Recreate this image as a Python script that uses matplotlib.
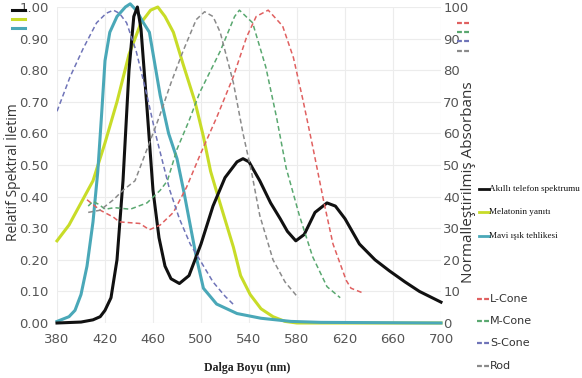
import matplotlib
matplotlib.use('Agg')
import matplotlib.pyplot as plt
from matplotlib.lines import Line2D

# ---- data ----
phone_wl = [380, 400, 410, 416, 420, 425, 430, 435, 440, 444, 447, 450, 455, 460, 465, 470, 475, 482,
            490, 500, 510, 520, 530, 535, 540, 549, 558, 566, 572, 579, 586, 595, 605, 612, 620, 632,
            645, 657, 670, 682, 700]
phone_val = [0.0, 0.003, 0.01, 0.02, 0.04, 0.08, 0.2, 0.45, 0.8, 0.97, 1.0, 0.93, 0.68, 0.42, 0.27,
             0.18, 0.14, 0.125, 0.15, 0.25, 0.37, 0.46, 0.51, 0.52, 0.51, 0.45, 0.38, 0.33, 0.29,
             0.26, 0.28, 0.35, 0.38, 0.37, 0.33, 0.25, 0.2, 0.165, 0.13, 0.10, 0.066]

melatonin_wl = [380, 390, 400, 410, 420, 430, 440, 450, 458, 464, 470, 477, 485, 495, 502, 508, 515,
                527, 533, 541, 550, 560, 570, 580, 700]
melatonin_val = [0.26, 0.31, 0.38, 0.45, 0.57, 0.70, 0.85, 0.95, 0.99, 1.0, 0.97, 0.92, 0.82, 0.70,
                 0.59, 0.48, 0.39, 0.24, 0.15, 0.09, 0.045, 0.02, 0.005, 0.0, 0.0]

bluehaz_wl = [380, 390, 395, 400, 405, 410, 414, 417, 420, 424, 430, 437, 441, 446, 452, 457, 466,
              473, 480, 486, 490, 496, 502, 513, 530, 550, 575, 600, 700]
bluehaz_val = [0.005, 0.02, 0.04, 0.09, 0.18, 0.32, 0.48, 0.65, 0.83, 0.92, 0.97, 1.0, 1.01, 0.99,
               0.95, 0.92, 0.72, 0.60, 0.52, 0.41, 0.33, 0.21, 0.11, 0.06, 0.03, 0.015, 0.005, 0.002, 0.0]

lcone_wl = [405, 416, 427, 432, 449, 457, 466, 477, 488, 499, 513, 527, 538, 546, 556, 568, 577, 585,
            593, 602, 610, 621, 625, 635]
lcone_val = [39, 35.7, 33.5, 32, 31.5, 29.5, 31, 35, 43, 53, 65, 78, 90.5, 97, 99, 94, 84, 70.5,
             56, 39, 25, 13.5, 11, 9.5]

mcone_wl = [406, 410, 415, 420, 428, 441, 455, 466, 472, 480, 490, 499, 516, 528, 532, 543, 554,
            563, 571, 582, 593, 605, 616]
mcone_val = [37, 38.5, 37.5, 36, 36.5, 36, 38, 42, 45, 55, 64, 73, 86, 97, 99, 95, 81, 65, 49, 34,
             21, 11.5, 8]

scone_wl = [380, 391, 402, 413, 421, 427, 432, 438, 446, 455, 462, 470, 474, 482, 491, 499, 510,
            520, 528]
scone_val = [67, 78, 87, 95, 98, 99, 98, 95, 86, 72, 60, 48, 42, 33, 25, 20, 13, 8.5, 5.5]

rod_wl = [406, 416, 427, 435, 445, 455, 465, 475, 485, 496, 503, 510, 516, 527, 535, 542, 549, 560,
          570, 581]
rod_val = [35, 35.7, 39, 42, 45, 55, 65, 76, 86, 96, 98.5, 97, 92, 76, 60, 48, 34, 20, 13, 8]

x_ticks = [380, 420, 460, 500, 540, 580, 620, 660, 700]
left_ticks = [0.0, 0.1, 0.2, 0.3, 0.4, 0.5, 0.6, 0.7, 0.8, 0.9, 1.0]
right_ticks = [0, 10, 20, 30, 40, 50, 60, 70, 80, 90, 100]

solid_labels = ['Akıllı telefon spektrumu', 'Melatonin yanıtı', 'Mavi ışık tehlikesi']
cone_labels = ['L-Cone', 'M-Cone', 'S-Cone', 'Rod']

# ---- styles ----
C_BLACK = '#111111'
C_YELLOW = '#c8dc28'
C_CYAN = '#4aa8b8'
C_RED = '#e06060'
C_GREEN = '#5aa870'
C_BLUE = '#6f74b8'
C_GRAY = '#8a8a8a'
TICK_C = '#555555'
TICK_FONT = ['Liberation Sans Narrow', 'DejaVu Sans']

W, H = 582, 378
fig = plt.figure(figsize=(W / 100, H / 100), dpi=100)
ax = fig.add_axes([57 / W, 1 - 323 / H, (441 - 57) / W, (323 - 7) / H])
ax2 = ax.twinx()

lw_s = 2.2
lw_d = 1.1
dash = (0, (3.2, 2.0))

ax.plot(melatonin_wl, melatonin_val, color=C_YELLOW, lw=lw_s, clip_on=False, zorder=3)
ax.plot(bluehaz_wl, bluehaz_val, color=C_CYAN, lw=lw_s, clip_on=False, zorder=3)
ax.plot(phone_wl, phone_val, color=C_BLACK, lw=lw_s, clip_on=False, zorder=4)

ax2.plot(lcone_wl, lcone_val, color=C_RED, lw=lw_d, ls=dash)
ax2.plot(mcone_wl, mcone_val, color=C_GREEN, lw=lw_d, ls=dash)
ax2.plot(scone_wl, scone_val, color=C_BLUE, lw=lw_d, ls=dash)
ax2.plot(rod_wl, rod_val, color=C_GRAY, lw=lw_d, ls=dash)

ax.set_xlim(380, 700)
ax.set_ylim(0, 1.0)
ax2.set_ylim(0, 100)
ax.set_xticks(x_ticks)
ax.set_yticks(left_ticks)
ax.set_yticklabels([f'{v:.2f}' for v in left_ticks])
ax2.set_yticks(right_ticks)
ax2.set_yticklabels([str(v) for v in right_ticks])

ax.grid(True, color='#ececec', lw=0.8)
ax.set_axisbelow(True)
for a in (ax, ax2):
    for s in a.spines.values():
        s.set_visible(False)
ax.tick_params(axis='both', length=0, colors=TICK_C, labelsize=9.5)
ax.tick_params(axis='x', pad=7)
ax.tick_params(axis='y', pad=6)
ax2.tick_params(axis='y', length=0, colors=TICK_C, labelsize=9.5, pad=1.5)
for lab in ax.get_xticklabels() + ax.get_yticklabels() + ax2.get_yticklabels():
    lab.set_family(TICK_FONT)

ax.set_xlabel('Dalga Boyu (nm)', family=['Liberation Serif', 'DejaVu Serif'],
              fontweight='bold', fontsize=8.5, color='#222222')
ax.xaxis.set_label_coords(0.495, -0.125)
fig.text(13 / W, 1 - 172 / H, 'Relatif Spektral İletim', rotation=90, ha='center', va='center',
         fontsize=10, color='#333333', family=['Open Sans', 'DejaVu Sans'])
fig.text(468 / W, 1 - 182 / H, 'Normalleştirilmiş Absorbans', rotation=90, ha='center', va='center',
         fontsize=11, color='#333333', family=['Open Sans', 'DejaVu Sans'])

T = fig.transFigure
def fx(px):
    return px / W
def fy(py):
    return 1 - py / H

# stray legend keys top-left
for yy, c in zip([10, 19, 28], [C_BLACK, C_YELLOW, C_CYAN]):
    fig.add_artist(Line2D([fx(12), fx(25)], [fy(yy), fy(yy)], color=c, lw=2.2, transform=T))
# stray legend keys top-right
for yy, c in zip([23, 32, 41, 51], [C_RED, C_GREEN, C_BLUE, C_GRAY]):
    fig.add_artist(Line2D([fx(457), fx(471)], [fy(yy), fy(yy)], color=c, lw=1.6,
                          ls=(0, (2.2, 1.0)), transform=T))

# solid legend
for yy, c, t in zip([189, 212, 236], [C_BLACK, C_YELLOW, C_CYAN], solid_labels):
    fig.add_artist(Line2D([fx(479), fx(489)], [fy(yy), fy(yy)], color=c, lw=2.0, transform=T))
    fig.text(fx(489), fy(yy), t, ha='left', va='center', fontsize=6.6, color='#111111',
             family=['Liberation Serif', 'DejaVu Serif'])

# cone legend
for yy, c, t in zip([299, 321, 343, 366], [C_RED, C_GREEN, C_BLUE, C_GRAY], cone_labels):
    fig.add_artist(Line2D([fx(477), fx(490)], [fy(yy), fy(yy)], color=c, lw=1.6,
                          ls=(0, (2.2, 1.0)), transform=T))
    fig.text(fx(490), fy(yy), t, ha='left', va='center', fontsize=8, color='#333333',
             family=TICK_FONT)

fig.savefig('out.png', dpi=100)
